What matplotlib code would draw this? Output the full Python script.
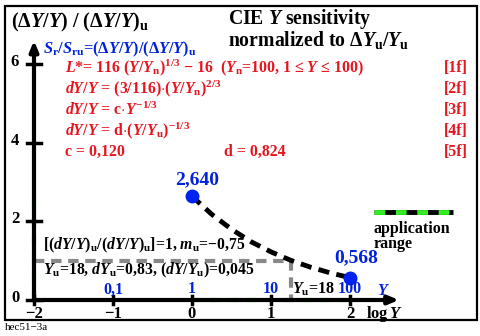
import matplotlib
matplotlib.use("Agg")
import matplotlib.pyplot as plt
from matplotlib.patches import Rectangle

plt.rcParams['font.family'] = ['Liberation Serif', 'DejaVu Serif']
plt.rcParams['font.weight'] = 'bold'
plt.rcParams['mathtext.fontset'] = 'custom'
plt.rcParams['mathtext.rm'] = 'Liberation Serif:bold'
plt.rcParams['mathtext.it'] = 'Liberation Serif:bold:italic'
plt.rcParams['mathtext.bf'] = 'Liberation Serif:bold'

# data
logY = [0, 0.25, 0.5, 0.75, 1.0, 1.25, 1.5, 1.75, 2.0]
ratio = [2.64, 2.18, 1.80, 1.48, 1.225, 1.01, 0.835, 0.69, 0.568]
end_x = [0, 2]
end_y = [2.640, 0.568]
end_lab = ["2,640", "0,568"]
logYu = 1.255           # Yu = 18
x_ticks = [-2, -1, 0, 1, 2]
x_ticklab = ["\u22122", "\u22121", "0", "1", "2"]
y_ticks = [0, 2, 4, 6]
Y_lab = ["0,1", "1", "10", "100"]
Y_lab_x = [-1, 0, 1, 2]
app_x = [0, 2]
app_y = [0, 2.64]

W, H = 481, 336
fig = plt.figure(figsize=(W / 100, H / 100), dpi=100)
ax = fig.add_axes([0, 0, 1, 1])
# pixel mapping: x=-2 -> 34px, 79 px/unit ; y=0 -> 300px from top, 39.3 px/unit
sx, sy = 79.0, 39.3
ax.set_xlim(-2 - 34 / sx, -2 + (W - 34) / sx)
ax.set_ylim(-(H - 300) / sy, 300 / sy)
ax.axis('off')


def px(x, y):
    return x / W, 1 - y / H


fig.patches.append(Rectangle(px(5, 320), 472 / W, 314 / H, transform=fig.transFigure,
                             fill=False, lw=1.6, ec='black'))

# axes with arrows
ax.annotate('', xy=(2.62, 0), xytext=(-2, 0),
            arrowprops=dict(arrowstyle='-|>,head_length=0.6,head_width=0.25', lw=3, color='black',
                            shrinkA=0, shrinkB=0))
ax.annotate('', xy=(-2, 6.6), xytext=(-2, 0),
            arrowprops=dict(arrowstyle='-|>,head_length=0.6,head_width=0.25', lw=3, color='black',
                            shrinkA=0, shrinkB=0))
# application range
ax.plot(app_x, [0, 0], color='#33ee22', lw=3, dashes=(2.2, 2.2), solid_capstyle='butt')
ax.plot([-2, -2], app_y, color='#33ee22', lw=3, dashes=(2.2, 2.2), solid_capstyle='butt')

for t in x_ticks:
    ax.plot([t, t], [-0.1, 0.1], color='black', lw=2.5)
    ax.text(t, -0.35, x_ticklab[x_ticks.index(t)], ha='center', va='center', fontsize=12)
for t in y_ticks:
    ax.plot([-2.09, -1.91], [t, t], color='black', lw=2.5)
    ax.text(-2.24, t + 0.05, str(t), ha='center', va='center', fontsize=12)

for x, s in zip(Y_lab_x, Y_lab):
    ax.text(x, 0.27, s, ha='center', va='center', fontsize=11.5, color='#0022dd')
ax.text(2.43, 0.24, '$Y$', ha='center', va='center', fontsize=11.5, color='#0022dd')
ax.text(1.27, 0.27, r'$Y_\mathrm{u}$=18', ha='left', va='center', fontsize=11.5)
ax.text(2.2, -0.35, r'log$\,Y$', ha='left', va='center', fontsize=12)

# gray reference lines
ax.plot([-2, logYu, logYu], [1, 1, 0], color='#888888', lw=3, dashes=(2.5, 1.6))

# curve
ax.plot(logY, ratio, color='black', lw=3.5, dashes=(2.3, 1.5))
ax.plot(end_x, end_y, 'o', color='#0022ee', ms=9)
ax.text(end_x[0] + 0.07, end_y[0] + 0.43, end_lab[0], ha='center', va='center', fontsize=14, color='#0022dd')
ax.text(end_x[1] + 0.08, end_y[1] + 0.52, end_lab[1], ha='center', va='center', fontsize=14, color='#0022dd')

# legend for application range
ax.plot([2.3, 3.3], [2.24, 2.24], color='black', lw=3.5, solid_capstyle='butt')
ax.plot([2.3, 3.3], [2.24, 2.24], color='#33ee22', lw=3.5, dashes=(2.2, 2.2), solid_capstyle='butt')
fig.text(*px(374, 229), 'application', ha='left', va='center', fontsize=11.5)
fig.text(*px(374, 244), 'range', ha='left', va='center', fontsize=11.5)

# headers
fig.text(*px(11, 22), r'$(\Delta Y/Y)$ / $(\Delta Y/Y)_\mathrm{u}$', ha='left', va='center', fontsize=14.5)
fig.text(*px(228, 19), r'CIE $Y$ sensitivity', ha='left', va='center', fontsize=14.2)
fig.text(*px(228, 40), r'normalized to $\Delta Y_\mathrm{u}/Y_\mathrm{u}$', ha='left', va='center', fontsize=14.2)
fig.text(*px(43, 49), r'$S_\mathrm{r}/S_\mathrm{ru}$=$(\Delta Y/Y)/(\Delta Y/Y)_\mathrm{u}$',
         ha='left', va='center', fontsize=11.8, color='#0022dd')

red = '#e8141e'
lines = [r'$L$*= 116 $(Y/Y_\mathrm{n})^{1/3}$ $-$ 16  ($Y_\mathrm{n}$=100, 1 ≤ $Y$ ≤ 100)',
         r'$dY/Y$ = (3/116)$\cdot$$(Y/Y_\mathrm{n})^{2/3}$',
         r'$dY/Y$ = c$\cdot$$Y^{-1/3}$',
         r'$dY/Y$ = d$\cdot$$(Y/Y_\mathrm{u})^{-1/3}$',
         'c = 0,120']
tags = ['[1f]', '[2f]', '[3f]', '[4f]', '[5f]']
for i, (s, t) in enumerate(zip(lines, tags)):
    y = 68 + 21 * i
    fig.text(*px(65, y), s, ha='left', va='center', fontsize=11.4, color=red)
    fig.text(*px(468, y), t, ha='right', va='center', fontsize=11.4, color=red)
fig.text(*px(224, 152), 'd = 0,824', ha='left', va='center', fontsize=11.4, color=red)

fig.text(*px(43, 245), r'[$(dY/Y)_\mathrm{u}/(dY/Y)_\mathrm{u}$]=1, $m_\mathrm{u}$=$-$0,75',
         ha='left', va='center', fontsize=11.3)
fig.text(*px(43, 270), r'$Y_\mathrm{u}$=18, $dY_\mathrm{u}$=0,83, $(dY/Y_\mathrm{u})$=0,045',
         ha='left', va='center', fontsize=11.3)

fig.text(*px(5, 328), 'hec51\u22123a', ha='left', va='center', fontsize=8, fontweight='normal')

fig.savefig('out.png', dpi=100)
